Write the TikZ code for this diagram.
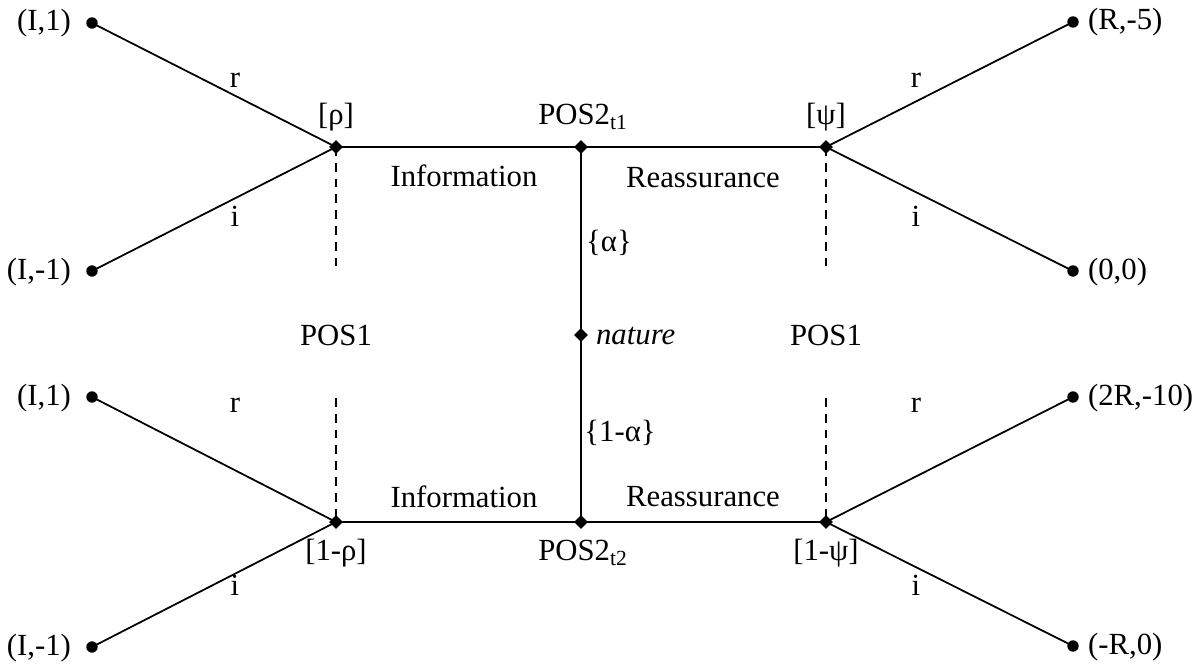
\documentclass[tikz,border=0pt]{standalone}
\usepackage{fontspec}
\setmainfont{Liberation Serif}
\usetikzlibrary{shapes.geometric}
\begin{document}
\begin{tikzpicture}[x=0.02cm,y=-0.02cm,
  font=\fontsize{17.5}{20}\selectfont,
  dia/.style={diamond,fill=black,inner sep=0pt,minimum size=8pt},
  leaf/.style={circle,fill=black,inner sep=0pt,minimum size=6.5pt},
  edge/.style={line width=1pt},
  infoset/.style={line width=1pt,dash pattern=on 5pt off 4pt},
  lbl/.style={inner sep=1pt}]
\useasboundingbox (0,0) rectangle (1200,668);
% decision nodes
\node[dia] (a) at (336,147) {};
\node[dia] (b) at (581,147) {};
\node[dia] (c) at (826,147) {};
\node[dia] (n) at (581,335) {};
\node[dia] (d) at (336,522) {};
\node[dia] (e) at (581,522) {};
\node[dia] (f) at (826,522) {};
% leaves
\node[leaf] (l1) at (92,23) {};
\node[leaf] (l2) at (92,271) {};
\node[leaf] (l3) at (92,397) {};
\node[leaf] (l4) at (92,647) {};
\node[leaf] (r1) at (1073,22) {};
\node[leaf] (r2) at (1073,271) {};
\node[leaf] (r3) at (1073,397) {};
\node[leaf] (r4) at (1073,646) {};
% POS1 labels
\node[lbl] (p1) at (336,335) {POS1};
\node[lbl] (p2) at (826,335) {POS1};
% edges
\draw[edge] (l1.center) -- (a.center);
\draw[edge] (l2.center) -- (a.center);
\draw[edge] (l3.center) -- (d.center);
\draw[edge] (l4.center) -- (d.center);
\draw[edge] (r1.center) -- (c.center);
\draw[edge] (r2.center) -- (c.center);
\draw[edge] (r3.center) -- (f.center);
\draw[edge] (r4.center) -- (f.center);
\draw[edge] (a.center) -- (b.center) -- (c.center);
\draw[edge] (d.center) -- (e.center) -- (f.center);
\draw[edge] (b.center) -- (n.center) -- (e.center);
% dashed info sets
\coordinate (a1) at (336,273);
\coordinate (d1) at (336,398);
\coordinate (c1) at (826,273);
\coordinate (f1) at (826,398);
\draw[infoset] (a.center) -- (a1);
\draw[infoset] (d1) -- (d.center);
\draw[infoset] (c.center) -- (c1);
\draw[infoset] (f1) -- (f.center);
% leaf labels
\node[lbl,anchor=east] at (73,23) {(I,1)};
\node[lbl,anchor=east] at (73,272) {(I,-1)};
\node[lbl,anchor=east] at (73,398) {(I,1)};
\node[lbl,anchor=east] at (73,648) {(I,-1)};
\node[lbl,anchor=west] at (1086,22) {(R,-5)};
\node[lbl,anchor=west] at (1086,272) {(0,0)};
\node[lbl,anchor=west] at (1086,398) {(2R,-10)};
\node[lbl,anchor=west] at (1086,647) {(-R,0)};
% action labels
\node[lbl] at (235,80) {r};
\node[lbl] at (235,216) {i};
\node[lbl] at (235,405) {r};
\node[lbl] at (235,585) {i};
\node[lbl] at (916,80) {r};
\node[lbl] at (916,216) {i};
\node[lbl] at (916,405) {r};
\node[lbl] at (916,585) {i};
% node labels
\node[lbl] at (336,117) {[ρ]};
\node[lbl] at (826,117) {[ψ]};
\node[lbl] at (336,553) {[1-ρ]};
\node[lbl] at (826,553) {[1-ψ]};
\node[lbl] at (583,117) {POS2\textsubscript{t1}};
\node[lbl] at (583,553) {POS2\textsubscript{t2}};
\node[lbl] at (464,176) {Information};
\node[lbl] at (703,178) {Reassurance};
\node[lbl] at (464,497) {Information};
\node[lbl] at (703,497) {Reassurance};
\node[lbl] at (609,243) {\{α\}};
\node[lbl] at (620,433) {\{1-α\}};
\node[lbl,anchor=west] at (594,336) {\itshape nature};
\end{tikzpicture}
\end{document}
